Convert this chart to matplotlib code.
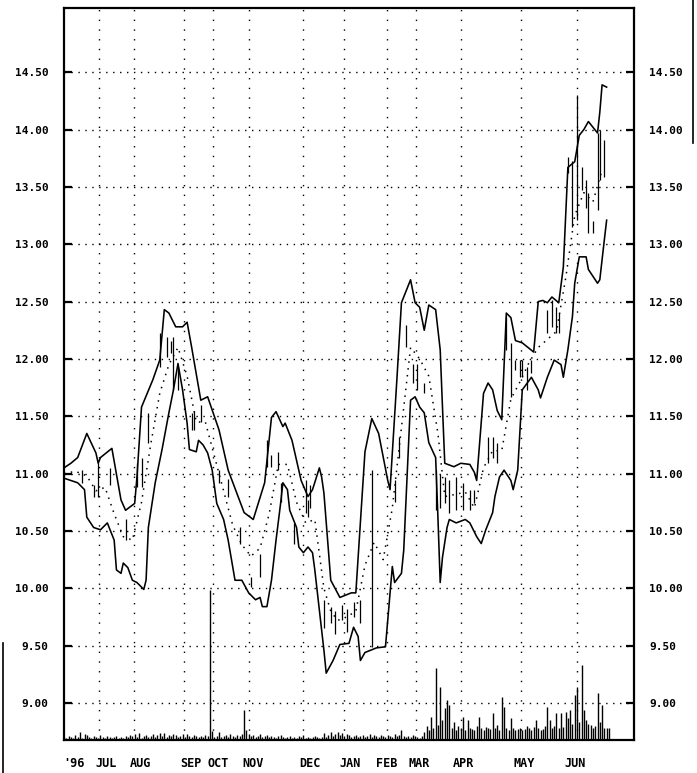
import matplotlib
matplotlib.use("Agg")
import matplotlib.pyplot as plt
from matplotlib.lines import Line2D

# Trading days counted from the start of the chart (late June 1996)
upper_days = [0, 3, 6, 10, 14, 15, 16, 21, 25, 27, 31, 32, 34, 39, 42, 44, 46, 49, 52, 54,
              56, 60, 63, 68, 72, 79, 83, 88, 91, 93, 96, 97, 100, 104, 107, 109, 112, 113, 114, 117,
              121, 126, 128, 132, 135, 138, 142, 143, 146, 148, 152, 154, 156, 158, 160, 163, 165, 166, 167, 171,
              174, 178, 180, 181, 184, 186, 188, 190, 192, 194, 196, 198, 201, 206, 208, 210, 212, 214, 217, 219,
              221, 224, 226, 228, 230, 232, 234, 235, 236, 238]
upper_band = [11.05, 11.09, 11.14, 11.35, 11.18, 11.09, 11.14, 11.22, 10.77, 10.68, 10.74, 10.97, 11.58, 11.82, 11.99, 12.43, 12.40, 12.28, 12.28, 12.32,
              12.10, 11.64, 11.67, 11.38, 11.03, 10.66, 10.60, 10.92, 11.49, 11.54, 11.41, 11.44, 11.29, 10.94, 10.80, 10.86, 11.05, 10.97, 10.83, 10.07,
              9.92, 9.96, 9.96, 11.19, 11.48, 11.35, 10.94, 10.86, 11.82, 12.49, 12.69, 12.49, 12.45, 12.25, 12.47, 12.43, 12.08, 11.58, 11.09, 11.06,
              11.09, 11.08, 11.01, 10.94, 11.70, 11.79, 11.73, 11.55, 11.47, 12.40, 12.36, 12.16, 12.14, 12.06, 12.50, 12.51, 12.49, 12.54, 12.49, 12.80,
              13.67, 13.72, 13.95, 14.00, 14.07, 14.02, 13.97, 14.15, 14.39, 14.37]

lower_days = [0, 3, 6, 9, 10, 13, 16, 19, 22, 23, 25, 26, 28, 30, 32, 35, 36, 37, 40, 43,
              46, 48, 50, 52, 54, 55, 58, 59, 61, 63, 65, 67, 70, 72, 75, 78, 81, 84, 86, 87,
              89, 91, 93, 95, 96, 98, 99, 102, 103, 105, 107, 109, 110, 112, 114, 115, 118, 121, 125, 127,
              129, 130, 132, 137, 141, 144, 145, 148, 149, 152, 154, 156, 158, 160, 163, 164, 165, 166, 168, 169,
              172, 176, 178, 181, 183, 185, 188, 189, 191, 193, 196, 197, 199, 201, 205, 208, 209, 212, 215, 218,
              219, 221, 223, 224, 226, 229, 230, 232, 234, 235, 237, 238]
lower_band = [10.96, 10.94, 10.92, 10.86, 10.62, 10.53, 10.51, 10.57, 10.42, 10.16, 10.13, 10.22, 10.18, 10.07, 10.05, 9.99, 10.07, 10.53, 10.92, 11.21,
              11.53, 11.73, 11.96, 11.73, 11.44, 11.21, 11.19, 11.29, 11.25, 11.18, 11.03, 10.74, 10.60, 10.42, 10.07, 10.07, 9.96, 9.90, 9.92, 9.84,
              9.84, 10.07, 10.42, 10.74, 10.92, 10.86, 10.68, 10.53, 10.36, 10.31, 10.36, 10.31, 10.16, 9.81, 9.46, 9.26, 9.37, 9.51, 9.52, 9.66,
              9.58, 9.37, 9.44, 9.48, 9.49, 10.19, 10.05, 10.13, 10.33, 11.64, 11.67, 11.58, 11.53, 11.27, 11.14, 10.62, 10.05, 10.27, 10.53, 10.60,
              10.57, 10.60, 10.57, 10.45, 10.39, 10.51, 10.66, 10.80, 10.97, 11.03, 10.94, 10.86, 11.03, 11.73, 11.84, 11.73, 11.66, 11.84, 11.99, 11.95,
              11.84, 12.08, 12.37, 12.66, 12.89, 12.89, 12.78, 12.72, 12.66, 12.69, 13.04, 13.21]

avg_days = [0, 5, 10, 14, 18, 22, 26, 30, 34, 38, 42, 46, 50, 54, 58, 62, 66, 70, 74, 78,
            82, 86, 90, 94, 98, 102, 106, 110, 114, 117, 120, 124, 128, 132, 136, 140, 144, 148, 152, 156,
            160, 164, 167, 172, 176, 180, 184, 188, 192, 196, 200, 204, 208, 212, 216, 220, 224, 228, 232, 236]
moving_avg = [11.00, 11.02, 10.98, 10.85, 10.88, 10.65, 10.45, 10.42, 10.75, 11.25, 11.70, 11.95, 12.10, 11.85, 11.45, 11.45, 11.15, 10.85, 10.55, 10.38,
              10.28, 10.35, 10.65, 11.08, 11.08, 10.75, 10.57, 10.60, 10.00, 9.80, 9.72, 9.75, 9.80, 10.20, 10.40, 10.25, 10.70, 11.40, 12.10, 12.00,
              11.85, 11.35, 10.80, 10.82, 10.84, 10.70, 11.05, 11.20, 11.20, 11.65, 11.80, 11.97, 12.10, 12.17, 12.24, 12.70, 13.25, 13.45, 13.37, 13.65]

# Daily price ranges (high-low bars)
bar_days = [8, 13, 15, 20, 27, 32, 34, 37, 42, 45, 47, 48, 50, 56, 57, 60, 68, 72, 77, 82,
            86, 89, 91, 94, 95, 101, 106, 107, 108, 114, 117, 119, 122, 124, 127, 130, 135, 145, 147, 150,
            153, 155, 158, 163, 165, 167, 169, 172, 175, 178, 180, 186, 188, 190, 194, 196, 198, 200, 201, 203,
            205, 212, 214, 216, 217, 221, 223, 225, 227, 229, 230, 232, 234, 235, 237]
bar_high = [11.03, 10.90, 11.09, 11.05, 10.60, 11.09, 11.14, 11.53, 12.23, 12.19, 12.16, 12.19, 11.93, 11.53, 11.55, 11.60, 11.03, 10.95, 10.53, 10.10,
            10.30, 11.29, 11.16, 11.19, 10.92, 10.57, 10.94, 10.77, 10.90, 9.90, 9.84, 9.80, 9.85, 9.82, 9.88, 9.90, 11.03, 10.94, 11.32, 12.30,
            11.96, 11.96, 11.79, 11.03, 11.00, 10.97, 10.94, 10.97, 10.92, 10.86, 10.86, 11.32, 11.32, 11.27, 12.37, 12.14, 11.99, 11.99, 11.99, 11.93,
            11.99, 12.43, 12.51, 12.45, 12.40, 13.76, 13.73, 14.30, 13.67, 13.56, 13.45, 13.20, 13.97, 14.00, 13.91]
bar_low = [10.92, 10.80, 10.80, 10.90, 10.42, 10.88, 10.88, 11.27, 11.93, 12.02, 12.05, 11.73, 11.73, 11.38, 11.38, 11.45, 10.92, 10.80, 10.39, 10.01,
           10.10, 11.06, 11.06, 11.03, 10.75, 10.39, 10.66, 10.62, 10.70, 9.65, 9.70, 9.60, 9.72, 9.62, 9.75, 9.70, 9.49, 10.75, 11.14, 12.10,
           11.79, 11.73, 11.70, 10.68, 10.70, 10.74, 10.66, 10.68, 10.68, 10.68, 10.74, 11.09, 11.14, 11.09, 12.08, 11.67, 11.90, 11.84, 11.84, 11.73,
           11.88, 12.23, 12.28, 12.23, 12.23, 13.62, 13.15, 13.21, 13.47, 13.32, 13.10, 13.10, 13.30, 13.56, 13.59]

# Daily volume, thousands of shares
volume = [3, 2, 4, 3, 2, 5, 3, 8, 2, 6,
          5, 3, 2, 4, 3, 2, 5, 3, 2, 4,
          3, 2, 3, 4, 2, 3, 2, 4, 3, 5,
          4, 6, 3, 7, 2, 4, 5, 3, 4, 6,
          3, 5, 7, 4, 7, 3, 5, 4, 6, 5,
          3, 4, 6, 3, 6, 4, 3, 5, 4, 3,
          4, 3, 5, 4, 150, 9, 3, 4, 8, 3,
          4, 5, 3, 6, 4, 3, 5, 4, 6, 30,
          10, 6, 4, 5, 3, 4, 6, 3, 4, 5,
          3, 4, 3, 2, 4, 5, 3, 2, 3, 4,
          2, 3, 2, 4, 3, 5, 2, 3, 2, 3,
          4, 3, 2, 3, 7, 3, 5, 8, 4, 6,
          8, 5, 7, 4, 6, 5, 3, 4, 5, 3,
          4, 5, 3, 4, 6, 3, 5, 4, 3, 5,
          4, 3, 5, 4, 3, 6, 4, 5, 10, 4,
          3, 4, 3, 5, 4, 3, 2, 4, 8, 14,
          10, 23, 12, 72, 15, 53, 20, 32, 40, 35,
          12, 18, 10, 14, 12, 23, 10, 20, 12, 11,
          10, 14, 23, 12, 10, 13, 12, 11, 27, 12,
          15, 10, 43, 33, 12, 10, 22, 12, 10, 11,
          12, 10, 11, 14, 12, 10, 13, 20, 12, 10,
          11, 14, 33, 20, 12, 14, 27, 12, 27, 13,
          28, 22, 30, 16, 45, 53, 18, 75, 30, 20,
          16, 15, 12, 14, 47, 18, 35, 12, 12, 12]

month_labels = ["'96", "JUL", "AUG", "SEP", "OCT", "NOV", "DEC", "JAN", "FEB", "MAR", "APR", "MAY", "JUN"]
month_label_days = [4.5, 18.5, 33.5, 55.5, 67.5, 83, 108, 125.5, 141.5, 156, 175, 202, 224]
month_grid_days = [15.5, 30.5, 52.5, 65.5, 81, 105, 123, 141.5, 154.5, 174, 200.5, 225]
price_ticks = [9.0, 9.5, 10.0, 10.5, 11.0, 11.5, 12.0, 12.5, 13.0, 13.5, 14.0, 14.5]

W, H = 697, 773
fig = plt.figure(figsize=(W / 100, H / 100), dpi=100)
fig.patch.set_facecolor("white")
ax = fig.add_axes([64 / W, 33 / H, 570 / W, 732 / H])
ax.set_xlim(0, 250)
ax.set_ylim(8.677, 15.06)

ink = "black"
for y in price_ticks:
    ax.axhline(y, color=ink, lw=1.0, ls=(0, (1, 4)), zorder=1)
for d in month_grid_days:
    ax.axvline(d, color=ink, lw=1.0, ls=(0, (1, 6)), zorder=1)

ax.plot(upper_days, upper_band, color=ink, lw=1.15, zorder=3)
ax.plot(lower_days, lower_band, color=ink, lw=1.15, zorder=3)
ax.plot(avg_days, moving_avg, color=ink, lw=1.1, ls=(0, (1, 3.5)), zorder=3)
ax.vlines(bar_days, bar_low, bar_high, color=ink, lw=0.9, zorder=3)

vol_ax = ax.twinx()
vol_ax.set_ylim(0, 732)
vol_ax.vlines(range(len(volume)), 0, volume, color=ink, lw=1.0)
vol_ax.set_yticks([])
for s in vol_ax.spines.values():
    s.set_visible(False)

for s in ax.spines.values():
    s.set_linewidth(1.6)
    s.set_color(ink)

ax.set_yticks(price_ticks)
ax.set_yticklabels([f"{v:.2f}" for v in price_ticks])
ax.tick_params(axis="y", left=True, right=True, labelleft=True, labelright=True,
               direction="in", length=6, width=1.6, colors=ink, pad=11)
for t in ax.yaxis.get_major_ticks():
    for lab in (t.label1, t.label2):
        lab.set_fontfamily("DejaVu Sans Mono")
        lab.set_fontweight("bold")
        lab.set_fontsize(8)

ax.set_xticks(month_label_days)
ax.set_xticklabels(month_labels, fontfamily="DejaVu Sans Mono", fontweight="bold", fontsize=8.5)
ax.tick_params(axis="x", length=0, pad=12, colors=ink)

# edges of the neighbouring sheets at the margins
fig.add_artist(Line2D([3 / W, 3 / W], [0, 130 / H], transform=fig.transFigure, color=ink, lw=1.2))
fig.add_artist(Line2D([693 / W, 693 / W], [1, 1 - 143 / H], transform=fig.transFigure, color=ink, lw=1.2))

fig.savefig("out.png", dpi=100, facecolor="white")
